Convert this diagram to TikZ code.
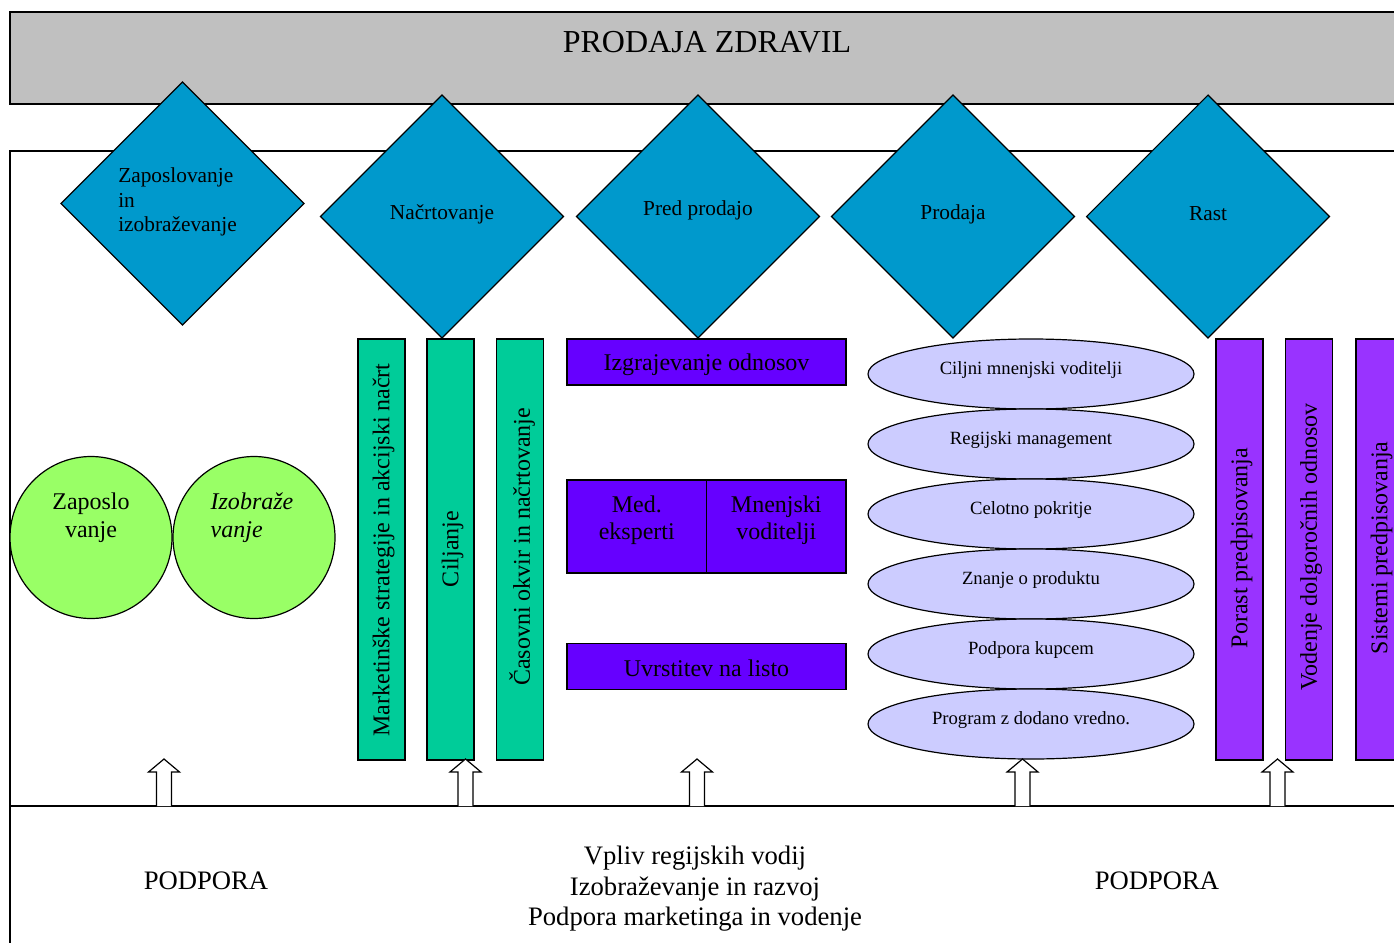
\documentclass[tikz,border=0pt]{standalone}
\usepackage{fontspec}
\setmainfont{Liberation Serif}
\usetikzlibrary{shapes.geometric}

\definecolor{headgray}{HTML}{C0C0C0}
\definecolor{diablue}{HTML}{0099CC}
\definecolor{barteal}{HTML}{00CC99}
\definecolor{boxviolet}{HTML}{6600FF}
\definecolor{barviolet}{HTML}{9933FF}
\definecolor{ovallav}{HTML}{CCCCFF}
\definecolor{ballgreen}{HTML}{99FF66}

\tikzset{
  frame/.style={draw, line width=1.1pt},
  dia/.style={shape=diamond, draw, fill=diablue, line width=0.9pt,
    minimum width=182.5pt, minimum height=182.5pt, inner sep=0pt},
  diatext/.style={font=\fontsize{16}{18.4}\selectfont, inner sep=0pt},
  vbar/.style={draw, line width=0.9pt, minimum width=35.25pt,
    minimum height=315.75pt, inner sep=0pt},
  vtext/.style={rotate=90, font=\fontsize{18}{21}\selectfont, inner sep=0pt},
  hbox/.style={draw, fill=boxviolet, line width=0.9pt, inner sep=0pt,
    font=\fontsize{18}{20.5}\selectfont},
  oval/.style={shape=ellipse, draw, fill=ovallav, line width=0.9pt,
    minimum width=244.5pt, minimum height=52.5pt, inner sep=0pt},
  ovaltext/.style={font=\fontsize{14}{16}\selectfont, inner sep=0pt},
  ball/.style={shape=circle, draw, fill=ballgreen, line width=0.9pt,
    minimum size=121.5pt, inner sep=0pt},
  balltext/.style={font=\fontsize{18}{21}\selectfont, inner sep=0pt},
  bigtext/.style={font=\fontsize{20}{22.9}\selectfont, inner sep=0pt},
  uparrow/.pic={
    \draw[fill=white, line width=0.9pt]
      (-7.5,0) -- (-7.5,-34) -- (-15.5,-34) -- (0,-47)
      -- (15.5,-34) -- (7.5,-34) -- (7.5,0);
  }
}

\begin{document}
\begin{tikzpicture}[x=0.75pt, y=-0.75pt]
  \useasboundingbox (0,0) rectangle (1394,942);
  \clip (0,0) rectangle (1394,942);

  % heading band and the main panel
  \draw[frame, fill=headgray] (10,12) rectangle (1420,104);
  \node[font=\fontsize{24}{28}\selectfont, inner sep=0pt] (title) at (707,42) {PRODAJA ZDRAVIL};
  \draw[frame, fill=white] (10,151) rectangle (1420,960);
  \draw[frame] (10,806) -- (1420,806);

  % process stages
  \node[dia] (d1) at (182.5,203.5) {};
  \node[dia] (d2) at (442,216.5) {};
  \node[dia] (d3) at (698,216.5) {};
  \node[dia] (d4) at (953,216.5) {};
  \node[dia] (d5) at (1208,216.5) {};
  \node[diatext, align=left] (t1) at (177.5,202) {Zaposlovanje\\in\\izobraževanje};
  \node[diatext] (t2) at (442,214) {Načrtovanje};
  \node[diatext] (t3) at (698,210) {Pred prodajo};
  \node[diatext] (t4) at (953,214) {Prodaja};
  \node[diatext] (t5) at (1208,214) {Rast};

  % employment and training
  \node[ball] (c1) at (91,537.5) {};
  \node[ball] (c2) at (254,537.5) {};
  \node[balltext, align=center] (c1t) at (91,518) {Zaposlo\\vanje};
  \node[balltext, align=left, font=\fontsize{18}{21}\selectfont\itshape] (c2t) at (252,518) {Izobraže\\vanje};

  % planning bars
  \node[vbar, fill=barteal] (g1) at (381.5,549.5) {};
  \node[vbar, fill=barteal] (g2) at (450.5,549.5) {};
  \node[vbar, fill=barteal] (g3) at (520,549.5) {};
  \node[vtext] (g1t) at (383.5,550) {Marketinške strategije in akcijski načrt};
  \node[vtext] (g2t) at (452.5,549) {Ciljanje};
  \node[vtext] (g3t) at (522,547) {Časovni okvir in načrtovanje};

  % pre-sales boxes
  \node[hbox, minimum width=209.25pt, minimum height=34.5pt] (p1) at (706.5,362) {};
  \node[hbox, draw=none, fill=none] (p1t) at (706.5,364.5) {Izgrajevanje odnosov};
  \node[hbox, minimum width=104.6pt, minimum height=69.75pt] (p2) at (636.75,526.5) {};
  \node[hbox, minimum width=104.6pt, minimum height=69.75pt] (p3) at (776.25,526.5) {};
  \node[hbox, draw=none, fill=none, align=center] (p2t) at (636.75,520.5) {Med.\\eksperti};
  \node[hbox, draw=none, fill=none, align=center] (p3t) at (776.25,520.5) {Mnenjski\\voditelji};
  \node[hbox, minimum width=209.25pt, minimum height=34.5pt] (p4) at (706.5,666.5) {};
  \node[hbox, draw=none, fill=none] (p4t) at (706.5,668.5) {Uvrstitev na listo};

  % sales ovals
  \node[oval] (e1) at (1031,374) {};
  \node[oval] (e2) at (1031,444) {};
  \node[oval] (e3) at (1031,514) {};
  \node[oval] (e4) at (1031,584) {};
  \node[oval] (e5) at (1031,654) {};
  \node[oval] (e6) at (1031,724) {};
  \node[ovaltext] (e1t) at (1031,370) {Ciljni mnenjski voditelji};
  \node[ovaltext] (e2t) at (1031,440) {Regijski management};
  \node[ovaltext] (e3t) at (1031,510) {Celotno pokritje};
  \node[ovaltext] (e4t) at (1031,580) {Znanje o produktu};
  \node[ovaltext] (e5t) at (1031,650) {Podpora kupcem};
  \node[ovaltext] (e6t) at (1031,720) {Program z dodano vredno.};

  % growth bars
  \node[vbar, fill=barviolet] (r1) at (1239.5,549.5) {};
  \node[vbar, fill=barviolet] (r2) at (1309,549.5) {};
  \node[vbar, fill=barviolet] (r3) at (1379.5,549.5) {};
  \node[vtext] (r1t) at (1241.5,548) {Porast predpisovanja};
  \node[vtext] (r2t) at (1311,547) {Vodenje dolgoročnih odnosov};
  \node[vtext] (r3t) at (1381.5,548) {Sistemi predpisovanja};

  % support arrows rising from the base line
  \pic at (164,806) {uparrow};
  \pic at (465.5,806) {uparrow};
  \pic at (697,806) {uparrow};
  \pic at (1022.5,806) {uparrow};
  \pic at (1277.5,806) {uparrow};

  % support band
  \node[bigtext] (s1) at (206,881) {PODPORA};
  \node[bigtext] (s2) at (1157,881) {PODPORA};
  \node[bigtext, align=center] (s3) at (695,889) {Vpliv regijskih vodij\\Izobraževanje in razvoj\\Podpora marketinga in vodenje};
\end{tikzpicture}
\end{document}
